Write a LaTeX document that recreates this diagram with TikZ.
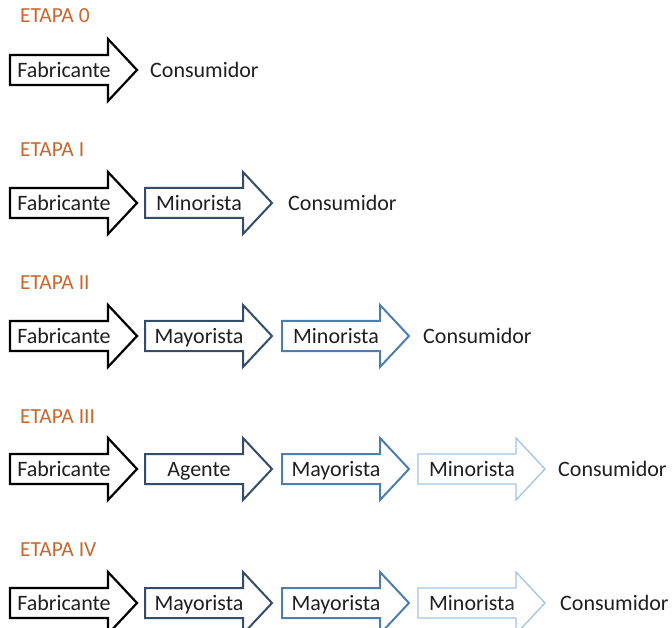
\documentclass[tikz,border=0pt]{standalone}
\usepackage{fontspec}
\setmainfont{Carlito}
\usepackage{tikz}
\usetikzlibrary{calc}
\usepackage{xcolor}
\definecolor{naranja}{RGB}{201,102,44}
\definecolor{azuloscuro}{RGB}{52,77,106}
\definecolor{azulmedio}{RGB}{76,126,176}
\definecolor{azulclaro}{RGB}{160,196,230}

% flecha: nombre, x, y, estilo, texto
\newcommand{\flecha}[5]{%
  \draw[#4] (#2,#3-15) -- ++(98,0) -- ++(0,-16) -- ++(29,31) -- ++(-29,31) -- ++(0,-16) -- ++(-98,0) -- cycle;
  \node[texto, anchor=base] (#1) at (#2+54,#3+7.5) {#5};}

\begin{document}
\begin{tikzpicture}[x=1pt, y=-1pt,
    negra/.style={draw=black, line width=2.2pt, line join=miter},
    oscura/.style={draw=azuloscuro, line width=2pt, line join=miter},
    media/.style={draw=azulmedio, line width=2pt, line join=miter},
    clara/.style={draw=azulclaro, line width=1.3pt, line join=miter},
    texto/.style={font=\fontsize{22}{26}\selectfont, inner sep=0pt, text=black!88},
    etapa/.style={font=\fontsize{21.5}{25}\selectfont, inner sep=0pt, text=naranja, anchor=base west}]
    \useasboundingbox (0,0) rectangle (672,628);
    % Etapa 0
    \node[etapa] (e0) at (20,23) {ETAPA 0};
    \flecha{f0a}{10}{70}{negra}{Fabricante}
    \node[texto, anchor=base west] (c0) at (150,77.5) {Consumidor};
    % Etapa I
    \node[etapa] (e1) at (20,157) {ETAPA I};
    \flecha{f1a}{10}{203}{negra}{Fabricante}
    \flecha{f1b}{145}{203}{oscura}{Minorista}
    \node[texto, anchor=base west] (c1) at (288,210.5) {Consumidor};
    % Etapa II
    \node[etapa] (e2) at (20,290) {ETAPA II};
    \flecha{f2a}{10}{336}{negra}{Fabricante}
    \flecha{f2b}{145}{336}{oscura}{Mayorista}
    \flecha{f2c}{282}{336}{media}{Minorista}
    \node[texto, anchor=base west] (c2) at (423,343.5) {Consumidor};
    % Etapa III
    \node[etapa] (e3) at (20,423) {ETAPA III};
    \flecha{f3a}{10}{469}{negra}{Fabricante}
    \flecha{f3b}{145}{469}{oscura}{Agente}
    \flecha{f3c}{282}{469}{media}{Mayorista}
    \flecha{f3d}{418}{469}{clara}{Minorista}
    \node[texto, anchor=base west] (c3) at (558,476.5) {Consumidor};
    % Etapa IV
    \node[etapa] (e4) at (20,556) {ETAPA IV};
    \flecha{f4a}{10}{603}{negra}{Fabricante}
    \flecha{f4b}{145}{603}{oscura}{Mayorista}
    \flecha{f4c}{282}{603}{media}{Mayorista}
    \flecha{f4d}{418}{603}{clara}{Minorista}
    \node[texto, anchor=base west] (c4) at (560,610.5) {Consumidor};
\end{tikzpicture}
\end{document}
